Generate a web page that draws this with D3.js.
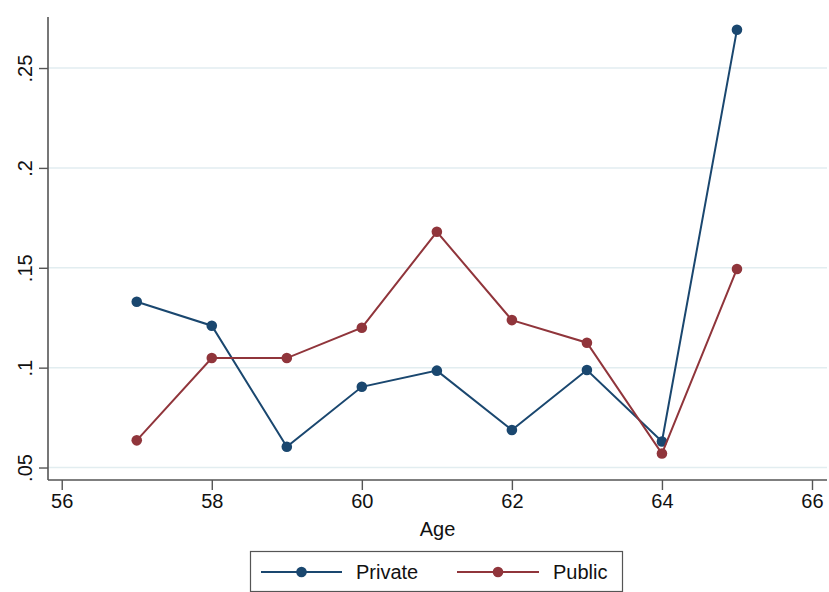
<!DOCTYPE html>
<html>
<head>
<meta charset="utf-8">
<script src="https://cdn.jsdelivr.net/npm/d3@7"></script>
<style>
  html, body { margin: 0; padding: 0; background: #fff; }
  svg { display: block; font-family: "Liberation Sans", Arial, Helvetica, sans-serif; }
</style>
</head>
<body>
<svg id="chart" width="829" height="592"></svg>
<script>
// Age of observation
const ages = [57, 58, 59, 60, 61, 62, 63, 64, 65];
// Share by sector at each age
const privateVals = [0.133, 0.121, 0.0604, 0.0904, 0.0985, 0.0688, 0.0988, 0.063, 0.2692];
const publicVals  = [0.0636, 0.1048, 0.1048, 0.12, 0.168, 0.1238, 0.1125, 0.057, 0.1494];
const xTicks = [56, 58, 60, 62, 64, 66];
const yTicks = [0.05, 0.1, 0.15, 0.2, 0.25];
const yTickLabels = [".05", ".1", ".15", ".2", ".25"];
const seriesNames = ["Private", "Public"];
const seriesColors = ["#1a476f", "#90353b"];

const svg = d3.select("#chart");
const plotL = 48, plotR = 827, plotT = 17, plotB = 480;

const x = d3.scaleLinear().domain([55.817, 66.2]).range([plotL, plotR]);
const y = d3.scaleLinear().domain([0.04375, 0.27555]).range([plotB, plotT]);

// horizontal grid
svg.append("g").selectAll("line").data(yTicks).join("line")
  .attr("x1", plotL).attr("x2", plotR)
  .attr("y1", d => y(d)).attr("y2", d => y(d))
  .attr("stroke", "#e2edf0").attr("stroke-width", 1.5);

// y axis
const yAxis = svg.append("g").attr("transform", `translate(${plotL},0)`)
  .call(d3.axisLeft(y).tickValues(yTicks).tickFormat((d, i) => yTickLabels[i]).tickSize(9).tickSizeOuter(0));
yAxis.select(".domain").attr("stroke", "#555").attr("stroke-width", 1.6).attr("d", `M0,${plotT}V${plotB}`);
yAxis.selectAll(".tick line").attr("stroke", "#555").attr("stroke-width", 1.4);
yAxis.selectAll(".tick text")
  .attr("font-size", 20).attr("fill", "#111")
  .attr("x", null).attr("dy", null)
  .attr("text-anchor", "middle")
  .attr("transform", "translate(-16,0) rotate(-90)")
  .attr("y", 0);

// x axis
const xAxis = svg.append("g").attr("transform", `translate(0,${plotB})`)
  .call(d3.axisBottom(x).tickValues(xTicks).tickFormat(d3.format("d")).tickSize(10).tickSizeOuter(0));
xAxis.select(".domain").attr("stroke", "#555").attr("stroke-width", 1.6).attr("d", `M${plotL},0H${plotR}`);
xAxis.selectAll(".tick line").attr("stroke", "#555").attr("stroke-width", 1.4);
xAxis.selectAll(".tick text").attr("font-size", 20).attr("fill", "#111").attr("y", 14).attr("dy", "0.71em");

// x axis title
svg.append("text").attr("x", (plotL + plotR) / 2).attr("y", 536)
  .attr("text-anchor", "middle").attr("font-size", 20).attr("fill", "#111").text("Age");

// series
const series = [privateVals, publicVals];
const line = d3.line().x((d, i) => x(ages[i])).y(d => y(d));
series.forEach((vals, s) => {
  const g = svg.append("g");
  g.append("path").datum(vals).attr("d", line)
    .attr("fill", "none").attr("stroke", seriesColors[s]).attr("stroke-width", 2);
  g.selectAll("circle").data(vals).join("circle")
    .attr("cx", (d, i) => x(ages[i])).attr("cy", d => y(d)).attr("r", 5.3)
    .attr("fill", seriesColors[s]);
});

// legend
const legend = svg.append("g");
legend.append("rect").attr("x", 250.5).attr("y", 551.5).attr("width", 372).attr("height", 40)
  .attr("fill", "#fff").attr("stroke", "#555").attr("stroke-width", 1.2);
const legendPos = [{x0: 261, x1: 342, tx: 356}, {x0: 457, x1: 539, tx: 553}];
seriesNames.forEach((name, s) => {
  const p = legendPos[s];
  legend.append("line").attr("x1", p.x0).attr("x2", p.x1).attr("y1", 572).attr("y2", 572)
    .attr("stroke", seriesColors[s]).attr("stroke-width", 2);
  legend.append("circle").attr("cx", (p.x0 + p.x1) / 2).attr("cy", 572).attr("r", 5.3)
    .attr("fill", seriesColors[s]);
  legend.append("text").attr("x", p.tx).attr("y", 579).attr("font-size", 20).attr("fill", "#111").text(name);
});
</script>
</body>
</html>
